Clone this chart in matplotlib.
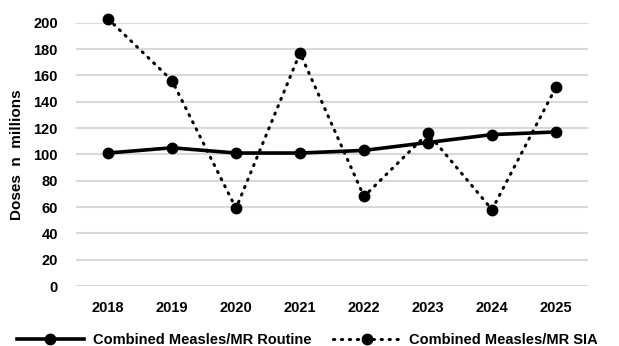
import matplotlib.pyplot as plt
import numpy as np

plt.rcParams['font.family'] = ['Liberation Sans', 'DejaVu Sans']
plt.rcParams['font.weight'] = 'bold'

# doses per year, millions
years = ['2018', '2019', '2020', '2021', '2022', '2023', '2024', '2025']
routine = [101, 105, 101, 101, 103, 109, 115, 117]
sia = [203, 156, 59, 177, 68, 116, 58, 151]

fig = plt.figure(figsize=(6.19, 3.46), dpi=100)
ax = fig.add_axes([76/619, 1-286/346, 512/619, (286-22.7)/346])

x = np.arange(len(years))
ax.plot(x, routine, color='black', lw=2.6, marker='o', ms=7.5,
        label='Combined Measles/MR Routine', clip_on=False, zorder=3)
ax.plot(x, sia, color='black', lw=2.2, ls=(0, (0.4, 2.2)), dash_capstyle='round',
        marker='o', ms=7.5, label='Combined Measles/MR SIA', clip_on=False, zorder=3)

ax.set_xlim(-0.5, len(years) - 0.5)
ax.set_ylim(0, 200)
ax.set_yticks(range(0, 201, 20))
ax.set_xticks(x)
ax.set_xticklabels(years)
ax.yaxis.grid(True, color='#d9d9d9', lw=1.5)
ax.set_axisbelow(True)
for s in ax.spines.values():
    s.set_visible(False)
ax.tick_params(length=0, labelsize=10.5)
ax.tick_params(axis='y', pad=13)
ax.tick_params(axis='x', pad=11)
ax.set_ylabel('Doses  n  millions', fontsize=11, fontweight='bold', labelpad=7)

fig.legend(loc='center left', ncol=2, frameon=False, fontsize=10.5,
           bbox_to_anchor=(11/619, 6/346), borderaxespad=0, handlelength=4.6,
           columnspacing=1.5, handletextpad=0.6)

fig.savefig('out.png', dpi=100)
